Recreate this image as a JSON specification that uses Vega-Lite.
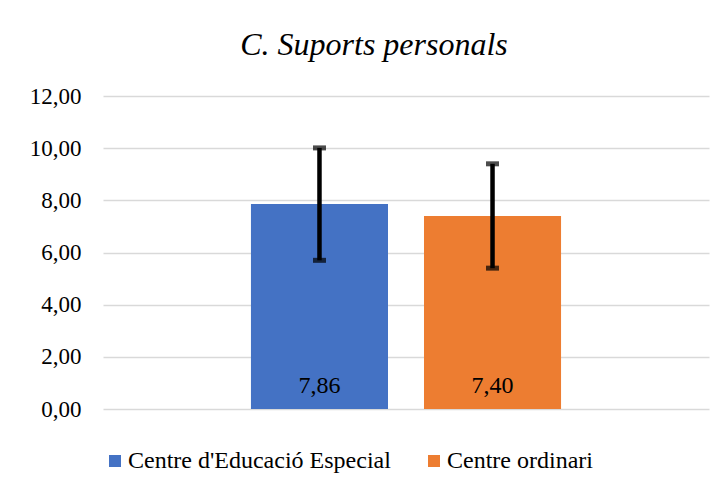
{
  "$schema": "https://vega.github.io/schema/vega-lite/v6.json",
  "width": 606,
  "height": 313,
  "autosize": {"type": "none"},
  "padding": {"left": 103, "top": 96, "right": 17, "bottom": 86},
  "background": "white",
  "config": {
    "view": {"stroke": null},
    "font": "Liberation Serif"
  },
  "title": {
    "text": "C. Suports personals",
    "font": "Liberation Serif",
    "fontStyle": "italic",
    "fontWeight": "normal",
    "fontSize": 32,
    "color": "#000000",
    "anchor": "middle",
    "baseline": "alphabetic",
    "dx": -32,
    "offset": -2
  },
  "data": {
    "values": [
      {"group": "Centre d'Educació Especial", "mean": 7.86, "lo": 5.70, "hi": 10.01, "label": "7,86"},
      {"group": "Centre ordinari", "mean": 7.40, "lo": 5.40, "hi": 9.40, "label": "7,40"}
    ]
  },
  "encoding": {
    "x": {
      "field": "group",
      "type": "nominal",
      "axis": null,
      "sort": null,
      "scale": {"paddingInner": 0.208, "paddingOuter": 0.855}
    }
  },
  "layer": [
    {
      "mark": {"type": "bar"},
      "encoding": {
        "y": {
          "field": "mean",
          "type": "quantitative",
          "scale": {"domain": [0, 12], "nice": false},
          "axis": {
            "values": [0, 2, 4, 6, 8, 10, 12],
            "labelExpr": "replace(format(datum.value, '.2f'), '.', ',')",
            "title": null,
            "domain": false,
            "ticks": false,
            "labelFont": "Liberation Serif",
            "labelFontSize": 23,
            "labelColor": "#000000",
            "labelPadding": 22,
            "gridColor": "#D9D9D9",
            "gridWidth": 1.5
          }
        },
        "color": {
          "field": "group",
          "type": "nominal",
          "sort": null,
          "scale": {"range": ["#4472C4", "#ED7D31"]},
          "legend": {
            "title": null,
            "orient": "none",
            "direction": "horizontal",
            "legendX": 0,
            "legendY": 353,
            "symbolType": "square",
            "symbolSize": 144,
            "symbolStrokeWidth": 0,
            "labelFont": "Liberation Serif",
            "labelFontSize": 24,
            "labelColor": "#000000",
            "labelOffset": 1,
            "columnPadding": 31,
            "labelLimit": 400
          }
        }
      }
    },
    {
      "mark": {"type": "rule", "color": "#000000", "strokeWidth": 4.5},
      "encoding": {
        "y": {"field": "lo", "type": "quantitative"},
        "y2": {"field": "hi"}
      }
    },
    {
      "mark": {"type": "tick", "color": "#000000", "size": 13, "thickness": 5, "orient": "horizontal"},
      "encoding": {
        "y": {"field": "lo", "type": "quantitative"}
      }
    },
    {
      "mark": {"type": "tick", "color": "#000000", "size": 13, "thickness": 5, "orient": "horizontal"},
      "encoding": {
        "y": {"field": "hi", "type": "quantitative"}
      }
    },
    {
      "mark": {"type": "text", "font": "Liberation Serif", "fontSize": 24, "color": "#000000", "baseline": "alphabetic", "dy": -16},
      "encoding": {
        "y": {"datum": 0},
        "text": {"field": "label"}
      }
    }
  ]
}
